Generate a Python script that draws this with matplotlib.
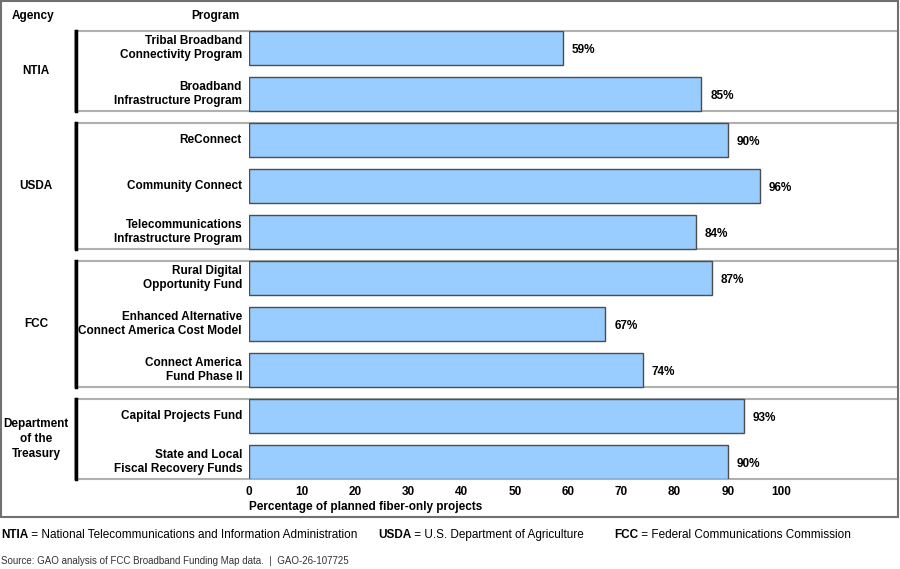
import numpy as np
import matplotlib.pyplot as plt
from matplotlib.patches import Rectangle
from matplotlib.lines import Line2D
from matplotlib.transforms import blended_transform_factory

plt.rcParams['font.family'] = ['Liberation Sans', 'DejaVu Sans']

programs = ["Tribal Broadband\nConnectivity Program",
            "Broadband\nInfrastructure Program",
            "ReConnect",
            "Community Connect",
            "Telecommunications\nInfrastructure Program",
            "Rural Digital\nOpportunity Fund",
            "Enhanced Alternative\nConnect America Cost Model",
            "Connect America\nFund Phase II",
            "Capital Projects Fund",
            "State and Local\nFiscal Recovery Funds"]
pct = [59, 85, 90, 96, 84, 87, 67, 74, 93, 90]
agencies = ["NTIA", "USDA", "FCC", "Department\nof the\nTreasury"]
agency_first = [0, 2, 5, 8]
agency_last = [1, 4, 7, 9]
xticks = list(range(0, 101, 10))

W, H = 900, 569
fig = plt.figure(figsize=(9, 5.69), dpi=100)


def fx(px):
    return px / W


def fy(py):
    return 1 - py / H


ax = fig.add_axes([fx(249), fy(479), fx(898) - fx(249), (479 - 31) / H])
bar_h = 34 / 46
y = np.arange(len(programs))
ax.barh(y, pct, height=bar_h, color='#99ccff', edgecolor='#4d4d4d', linewidth=1.0, zorder=3)
ax.set_xlim(0, (898 - 249) / 5.32)
ax.set_ylim(len(programs) - 1 + bar_h / 2, -bar_h / 2)
for s in ax.spines.values():
    s.set_visible(False)
ax.set_yticks([])
ax.set_xticks(xticks)
ax.set_xticklabels([str(t) for t in xticks], fontweight='bold', fontsize=8.5)
ax.tick_params(axis='x', length=0, pad=5)

for yi, v in zip(y, pct):
    ax.text(v + 1.7, yi + 0.05, f"{v}%", va='center', ha='left', fontweight='bold', fontsize=8.5)

bt = blended_transform_factory(fig.transFigure, ax.transData)
for yi, name in zip(y, programs):
    ax.text(fx(242), yi, name, transform=bt, ha='right', va='center', fontweight='bold',
            fontsize=8.5, linespacing=1.15, clip_on=False)

for name, a, b in zip(agencies, agency_first, agency_last):
    y0, y1 = a - bar_h / 2, b + bar_h / 2
    ax.add_patch(Rectangle((fx(75), y0), fx(898) - fx(75), y1 - y0, transform=bt,
                           fill=False, edgecolor='#b0b0b0', linewidth=1.5, clip_on=False, zorder=1))
    ax.add_line(Line2D([fx(75.5), fx(75.5)], [y0, y1], transform=bt, color='black',
                       linewidth=2.5, clip_on=False, zorder=2))
    ax.text(fx(36), (a + b) / 2, name, transform=bt, ha='center', va='center',
            fontweight='bold', fontsize=8.5, linespacing=1.28, clip_on=False)

fig.text(fx(33), fy(16), "Agency", ha='center', va='center', fontweight='bold', fontsize=8.5)
fig.text(fx(240), fy(16), "Program", ha='right', va='center', fontweight='bold', fontsize=8.5)
fig.text(fx(249), fy(507), "Percentage of planned fiber-only projects", ha='left', va='center',
         fontweight='bold', fontsize=8.5)

fig.add_artist(Rectangle((fx(1), fy(517)), fx(898) - fx(1), fy(1) - fy(517), transform=fig.transFigure,
                         fill=False, edgecolor='#707070', linewidth=1.5))

legend_abbr = ["NTIA", "USDA", "FCC"]
legend_full = [" = National Telecommunications and Information Administration",
               " = U.S. Department of Agriculture",
               " = Federal Communications Commission"]
legend_x = [1, 378, 614]
for abbr, full, lx in zip(legend_abbr, legend_full, legend_x):
    t = fig.text(fx(lx), fy(541), abbr, ha='left', va='bottom', fontweight='bold', fontsize=8.5)
    ax.annotate(full, xy=(1, 0), xycoords=t, ha='left', va='bottom', fontsize=8.5,
                annotation_clip=False)

fig.text(fx(1), fy(561), "Source: GAO analysis of FCC Broadband Funding Map data.  |  GAO-26-107725",
         ha='left', va='center', fontsize=7, color='#333333')

fig.savefig("out.png", dpi=100)
